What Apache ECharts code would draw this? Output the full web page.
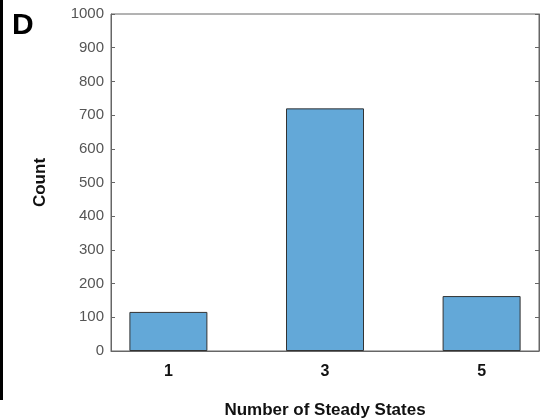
<!DOCTYPE html>
<html>
<head>
<meta charset="utf-8">
<script src="https://cdn.jsdelivr.net/npm/echarts@6/dist/echarts.min.js"></script>
<style>
html,body{margin:0;padding:0;background:#fff;}
#c{width:542px;height:419px;}
</style>
</head>
<body>
<div id="c"></div>
<script>
const categories = [1, 3, 5];
const counts = [116, 720, 163];
const yTicks = [0, 100, 200, 300, 400, 500, 600, 700, 800, 900, 1000];

const chart = echarts.init(document.getElementById('c'), null, {renderer: 'canvas'});
const axisColor = '#666';
const font = '"Liberation Sans", Arial, Helvetica, sans-serif';
chart.setOption({
  animation: false,
  backgroundColor: '#fff',
  grid: {left: 111, top: 14, right: 3, bottom: 68, show: true, borderColor: axisColor, borderWidth: 1, outerBoundsMode: 'none', containLabel: false},
  xAxis: {
    type: 'value', min: 0.267, max: 5.733,
    splitLine: {show: false},
    axisLine: {show: true, onZero: false, lineStyle: {color: axisColor}},
    axisTick: {show: false},
    axisLabel: {customValues: categories, color: '#111', fontWeight: 'bold', fontSize: 16, fontFamily: font, margin: 13},
    name: 'Number of Steady States', nameLocation: 'middle', nameGap: 51,
    nameTextStyle: {color: '#111', fontWeight: 'bold', fontSize: 17, fontFamily: font}
  },
  yAxis: [{
    type: 'value', min: 0, max: 1000, interval: 100,
    splitLine: {show: false},
    axisLine: {show: true, lineStyle: {color: axisColor}},
    axisTick: {show: true, inside: true, length: 4, lineStyle: {color: axisColor}},
    axisLabel: {customValues: yTicks, formatter: v => String(v), color: '#555', fontSize: 15, fontFamily: font, margin: 7},
    name: 'Count', nameLocation: 'middle', nameGap: 62, nameRotate: 90,
    nameTextStyle: {color: '#111', fontWeight: 'bold', fontSize: 17, fontFamily: font}
  }, {
    type: 'value', min: 0, max: 1000, interval: 100, position: 'right',
    splitLine: {show: false},
    axisLine: {show: true, lineStyle: {color: axisColor}},
    axisTick: {show: true, inside: true, length: 4, lineStyle: {color: axisColor}},
    axisLabel: {show: false}
  }],
  series: [{
    type: 'bar',
    barWidth: 78,
    data: categories.map((c, i) => [c, counts[i]]),
    itemStyle: {color: '#63a8d8', borderColor: '#333', borderWidth: 1}
  }],
  graphic: [
    {type: 'text', left: 12, top: 11, style: {text: 'D', fontSize: 30, fontWeight: 'bold', fontFamily: font, fill: '#000'}},
    {type: 'rect', shape: {x: 0, y: 0, width: 3, height: 400}, style: {fill: '#000'}}
  ]
});
</script>
</body>
</html>
